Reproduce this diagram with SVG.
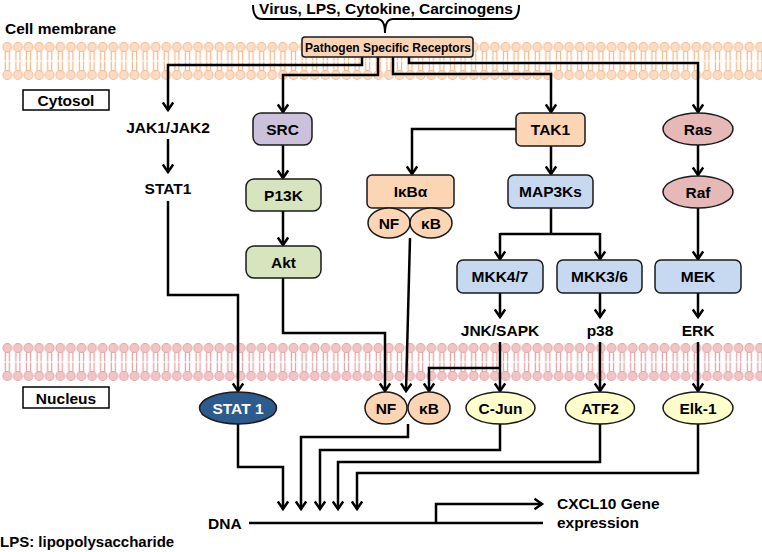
<svg xmlns="http://www.w3.org/2000/svg" width="762" height="552" viewBox="0 0 762 552">
<style>
.t{font-family:"Liberation Sans",Arial,sans-serif;font-weight:bold;font-size:15.5px;fill:#000}
.c{text-anchor:middle}
.n{stroke:#1a1a1a;stroke-width:1.5}
.ln{fill:none;stroke:#000;stroke-width:2.5}
.ar{marker-end:url(#ah)}
</style>
<defs>
<marker id="ah" viewBox="0 0 12 12" refX="9" refY="6" markerWidth="12" markerHeight="12" markerUnits="userSpaceOnUse" orient="auto">
<path d="M1.5,0.8 L9,6 L1.5,11.2" fill="none" stroke="#000" stroke-width="2.5"/>
</marker>
<pattern id="memO" patternUnits="userSpaceOnUse" x="2" y="41" width="10.6" height="40">
<path d="M3.3,10 V19.4 M7.3,10 V19.4 M3.3,20.6 V30 M7.3,20.6 V30" stroke="#f5b98a" stroke-width="1.3"/>
<circle cx="5.3" cy="6" r="4.4" fill="#fcdcc4" stroke="#f5b98a" stroke-width="1"/>
<circle cx="5.3" cy="34" r="4.4" fill="#fcdcc4" stroke="#f5b98a" stroke-width="1"/>
</pattern>
<pattern id="memN" patternUnits="userSpaceOnUse" x="2" y="342" width="10.6" height="40">
<path d="M3.3,10 V19.4 M7.3,10 V19.4 M3.3,20.6 V30 M7.3,20.6 V30" stroke="#e3a3a3" stroke-width="1.3"/>
<circle cx="5.3" cy="6" r="4.4" fill="#f2c4c4" stroke="#e3a3a3" stroke-width="1"/>
<circle cx="5.3" cy="34" r="4.4" fill="#f2c4c4" stroke="#e3a3a3" stroke-width="1"/>
</pattern>
</defs>
<rect width="762" height="552" fill="#fff"/>
<rect x="2" y="41" width="760" height="40" fill="url(#memO)"/>
<rect x="2" y="342" width="760" height="40" fill="url(#memN)"/>

<g id="labels">
<text class="t" x="5" y="34">Cell membrane</text>
<text class="t c" x="386" y="13.5">Virus, LPS, Cytokine, Carcinogens</text>
<path d="M253,5 Q253,19 262,19 H377 Q385,19 385,33 Q385,19 393,19 H511 Q519,19 519,5" fill="none" stroke="#000" stroke-width="2"/>
<text class="t" x="0" y="547" style="font-size:15px">LPS: lipopolysaccharide</text>
</g>

<g id="cytosol-label"><rect x="23" y="90" width="86" height="20" fill="#fff" stroke="#000" stroke-width="1.5"/><text class="t c" x="66" y="106">Cytosol</text></g>
<g id="nucleus-label"><rect x="23" y="387" width="86" height="21" fill="#fff" stroke="#000" stroke-width="1.5"/><text class="t c" x="66" y="404">Nucleus</text></g>

<g id="connectors">
<path class="ln ar" d="M362,57 V65 H168 V110"/>
<path class="ln ar" d="M378,57 V75 H283 V112"/>
<path class="ln ar" d="M393,57 V74 H551 V112"/>
<path class="ln ar" d="M409,57 V63 H698 V112"/>
<path class="ln ar" d="M168,139 V172"/>
<path class="ln ar" d="M168,201 V295 H238 V391"/>
<path class="ln ar" d="M283,145 V178"/>
<path class="ln ar" d="M283,211 V245"/>
<path class="ln ar" d="M283,278 V333 H385 V391"/>
<path class="ln ar" d="M516,129 H412 V174"/>
<path class="ln ar" d="M410,238 L406,391"/>
<path class="ln ar" d="M551,146 V174"/>
<path class="ln" d="M551,208 V234 M500,234 H600"/>
<path class="ln ar" d="M500,233 V259"/>
<path class="ln ar" d="M600,233 V259"/>
<path class="ln ar" d="M698,145 V175"/>
<path class="ln ar" d="M698,208 V259"/>
<path class="ln ar" d="M500,293 V317"/>
<path class="ln ar" d="M600,293 V317"/>
<path class="ln ar" d="M698,293 V317"/>
<path class="ln ar" d="M500,342 V391"/>
<path class="ln ar" d="M500,368 H429 V391"/>
<path class="ln ar" d="M600,342 V391"/>
<path class="ln ar" d="M698,342 V391"/>
<path class="ln ar" d="M238,424 V467 H283 V509"/>
<path class="ln ar" d="M408,424 V437 H301 V509"/>
<path class="ln ar" d="M500,424 V450 H320 V509"/>
<path class="ln ar" d="M600,424 V462 H338 V509"/>
<path class="ln ar" d="M698,424 V473 H357 V509"/>
<path class="ln" d="M249,523 H543"/>
<path class="ln ar" d="M436,523 V504 H542"/>
</g>

<g id="receptors"><rect class="n" x="302" y="37" width="171" height="20" rx="3" fill="#fcd5b5"/><text class="t c" x="388" y="51.5" style="font-size:12px">Pathogen Specific Receptors</text></g>
<g id="jak"><text class="t c" x="168" y="132.5">JAK1/JAK2</text></g>
<g id="stat1-cyto"><text class="t c" x="168" y="194">STAT1</text></g>
<g id="src"><rect class="n" x="253" y="113" width="59" height="32" rx="8" fill="#ccc1da"/><text class="t c" x="282.5" y="134.5">SRC</text></g>
<g id="p13k"><rect class="n" x="246" y="179" width="75" height="32" rx="8" fill="#d7e4bd"/><text class="t c" x="283.5" y="200.5">P13K</text></g>
<g id="akt"><rect class="n" x="246" y="246" width="75" height="32" rx="8" fill="#d7e4bd"/><text class="t c" x="283.5" y="267.5">Akt</text></g>
<g id="ikba"><rect class="n" x="367" y="175" width="87" height="33" rx="5" fill="#fcd5b5"/><text class="t c" x="410.5" y="197">IκBα</text></g>
<g id="nfkb-cyto">
<ellipse class="n" cx="389" cy="223" rx="21" ry="15" fill="#fcd5b5"/><text class="t c" x="389" y="228.5">NF</text>
<ellipse class="n" cx="431" cy="223" rx="21" ry="15" fill="#fcd5b5"/><text class="t c" x="431" y="228.5">κB</text>
</g>
<g id="tak1"><rect class="n" x="516" y="113" width="69" height="33" rx="5" fill="#fcd5b5"/><text class="t c" x="550.5" y="135">TAK1</text></g>
<g id="map3ks"><rect class="n" x="508" y="175" width="85" height="33" rx="6" fill="#c6d9f1"/><text class="t c" x="550.5" y="197">MAP3Ks</text></g>
<g id="mkk47"><rect class="n" x="457" y="260" width="86" height="33" rx="6" fill="#c6d9f1"/><text class="t c" x="500" y="282">MKK4/7</text></g>
<g id="mkk36"><rect class="n" x="557" y="260" width="85" height="33" rx="6" fill="#c6d9f1"/><text class="t c" x="599.5" y="282">MKK3/6</text></g>
<g id="mek"><rect class="n" x="655" y="260" width="86" height="33" rx="6" fill="#c6d9f1"/><text class="t c" x="698" y="282">MEK</text></g>
<g id="ras"><ellipse class="n" cx="698" cy="129" rx="35" ry="16" fill="#e6b9b8"/><text class="t c" x="698" y="134.5">Ras</text></g>
<g id="raf"><ellipse class="n" cx="698" cy="192" rx="35" ry="16" fill="#e6b9b8"/><text class="t c" x="698" y="197.5">Raf</text></g>
<g id="jnk"><text class="t c" x="500" y="336">JNK/SAPK</text></g>
<g id="p38"><text class="t c" x="600" y="336">p38</text></g>
<g id="erk"><text class="t c" x="698" y="336">ERK</text></g>
<g id="stat1-nuc"><ellipse class="n" cx="238" cy="408" rx="38.5" ry="16" fill="#2e5b8e"/><text class="t c" x="238" y="413.5" style="fill:#fff">STAT 1</text></g>
<g id="nfkb-nuc">
<ellipse class="n" cx="386" cy="408" rx="21" ry="16" fill="#fcd5b5"/><text class="t c" x="386" y="413.5">NF</text>
<ellipse class="n" cx="429" cy="408" rx="21" ry="16" fill="#fcd5b5"/><text class="t c" x="429" y="413.5">κB</text>
</g>
<g id="cjun"><ellipse class="n" cx="500.5" cy="408" rx="34.5" ry="16" fill="#ffffcc"/><text class="t c" x="500.5" y="413.5">C-Jun</text></g>
<g id="atf2"><ellipse class="n" cx="600" cy="408" rx="34.5" ry="16" fill="#ffffcc"/><text class="t c" x="600" y="413.5">ATF2</text></g>
<g id="elk1"><ellipse class="n" cx="698" cy="408" rx="35" ry="16" fill="#ffffcc"/><text class="t c" x="698" y="413.5">Elk-1</text></g>
<g id="dna"><text class="t" x="208" y="529">DNA</text></g>
<g id="cxcl10"><text class="t" x="557" y="509">CXCL10 Gene</text><text class="t" x="557" y="528">expression</text></g>
</svg>
